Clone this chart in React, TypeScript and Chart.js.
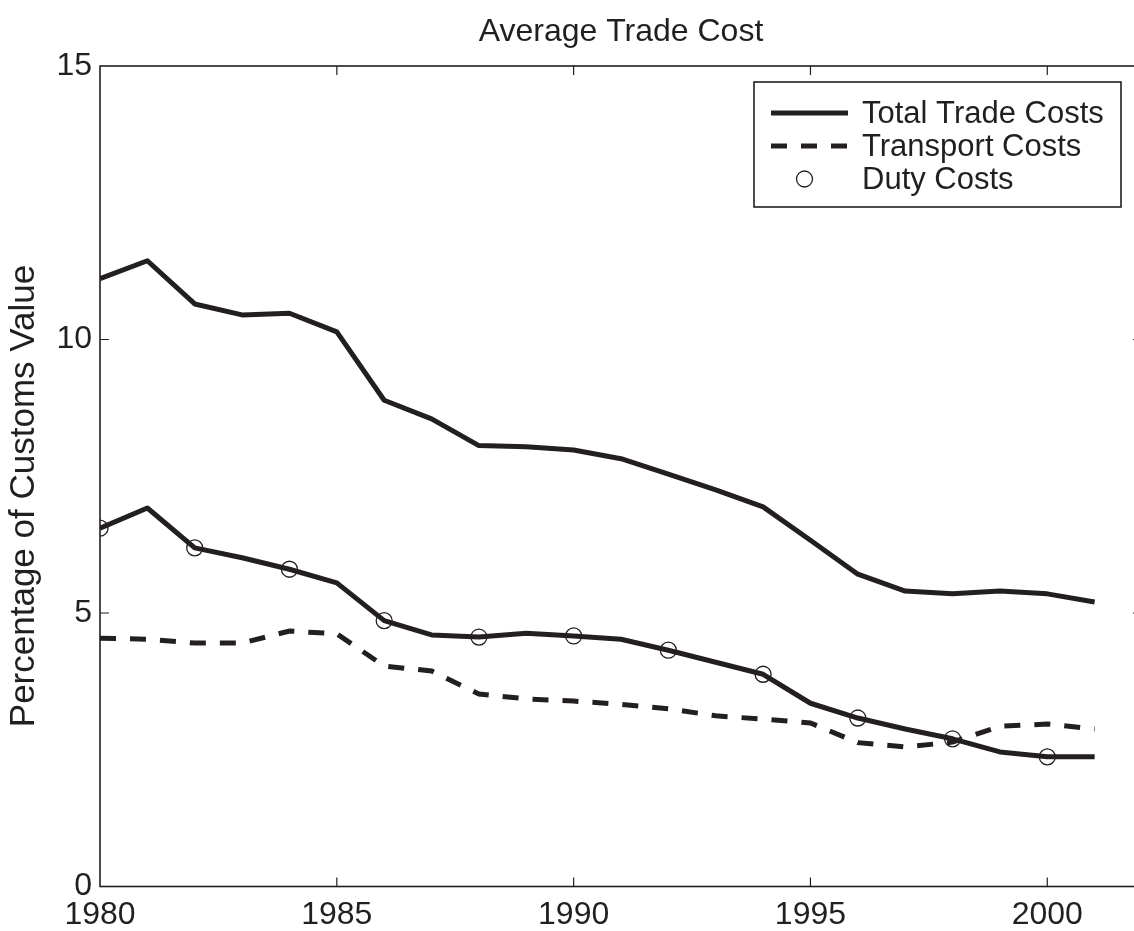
import React, { useEffect, useRef } from 'react';
import { Chart, registerables } from 'chart.js';

Chart.register(...registerables);

const years = [1980, 1981, 1982, 1983, 1984, 1985, 1986, 1987, 1988, 1989, 1990, 1991, 1992, 1993, 1994, 1995, 1996, 1997, 1998, 1999, 2000, 2001];
const totalTradeCosts = [11.11, 11.44, 10.65, 10.45, 10.48, 10.14, 8.89, 8.55, 8.06, 8.04, 7.98, 7.82, 7.54, 7.25, 6.94, 6.33, 5.71, 5.40, 5.35, 5.40, 5.35, 5.20];
const transportCosts = [4.54, 4.52, 4.45, 4.45, 4.67, 4.62, 4.03, 3.94, 3.52, 3.43, 3.39, 3.33, 3.25, 3.12, 3.06, 2.99, 2.63, 2.55, 2.64, 2.93, 2.97, 2.88];
const dutyCosts = [6.55, 6.92, 6.19, 6.01, 5.80, 5.55, 4.86, 4.60, 4.56, 4.63, 4.58, 4.52, 4.32, 4.10, 3.88, 3.35, 3.08, 2.88, 2.70, 2.46, 2.37, 2.37];
const dutyMarkerYears = [1980, 1982, 1984, 1986, 1988, 1990, 1992, 1994, 1996, 1998, 2000];
const xTicks = [1980, 1985, 1990, 1995, 2000];
const yTicks = [0, 5, 10, 15];
const xRange = [1980, 2002];
const yRange = [0, 15];
const titleText = 'Average Trade Cost';
const yAxisLabel = 'Percentage of Customs Value';
const legendLabels = ['Total Trade Costs', 'Transport Costs', 'Duty Costs'];

const INK = '#231f20';
const FONT = '"Liberation Sans", Arial, Helvetica, sans-serif';
const DASH = [16, 14];

const matlabFrame = {
  id: 'matlabFrame',
  afterDraw(chart: any) {
    const { ctx, chartArea } = chart;
    const { left, top, right, bottom } = chartArea;
    const xs = chart.scales.x;
    const ys = chart.scales.y;
    ctx.save();
    // box
    ctx.strokeStyle = INK;
    ctx.lineWidth = 1.6;
    ctx.setLineDash([]);
    ctx.strokeRect(left, top, right - left, bottom - top);
    // inward ticks
    const tl = 9;
    ctx.lineWidth = 1.2;
    ctx.beginPath();
    xTicks.forEach((v) => {
      const px = xs.getPixelForValue(v);
      if (px > left + 1 && px < right - 1) {
        ctx.moveTo(px, bottom);
        ctx.lineTo(px, bottom - tl);
        ctx.moveTo(px, top);
        ctx.lineTo(px, top + tl);
      }
    });
    yTicks.forEach((v) => {
      const py = ys.getPixelForValue(v);
      if (py > top + 1 && py < bottom - 1) {
        ctx.moveTo(left, py);
        ctx.lineTo(left + tl, py);
        ctx.moveTo(right, py);
        ctx.lineTo(right - tl, py);
      }
    });
    ctx.stroke();

    // title
    ctx.fillStyle = INK;
    ctx.font = `32px ${FONT}`;
    ctx.textAlign = 'center';
    ctx.textBaseline = 'alphabetic';
    ctx.fillText(titleText, (left + right) / 2, 41);

    // y axis label
    ctx.save();
    ctx.translate(34, 496);
    ctx.rotate(-Math.PI / 2);
    ctx.font = `35px ${FONT}`;
    ctx.fillText(yAxisLabel, 0, 0);
    ctx.restore();

    // legend
    const lx = right - 388;
    const ly = top + 16;
    const lw = 367;
    const lh = 125;
    ctx.fillStyle = '#ffffff';
    ctx.fillRect(lx, ly, lw, lh);
    ctx.lineWidth = 1.6;
    ctx.strokeStyle = INK;
    ctx.strokeRect(lx, ly, lw, lh);
    const rows = [31, 64, 97];
    const sx0 = lx + 17;
    const sx1 = lx + 94;
    const tx = lx + 108;
    chart.data.datasets.forEach((ds: any) => {
      const idx = legendLabels.indexOf(ds.label);
      if (idx < 0) return;
      const ry = ly + rows[idx];
      ctx.strokeStyle = INK;
      if (ds.showLine === false) {
        ctx.lineWidth = 1.3;
        ctx.setLineDash([]);
        ctx.beginPath();
        ctx.arc((sx0 + sx1) / 2 - 5, ry, 8, 0, Math.PI * 2);
        ctx.stroke();
      } else {
        ctx.lineWidth = 5;
        ctx.lineCap = 'butt';
        ctx.setLineDash(ds.borderDash || []);
        ctx.beginPath();
        ctx.moveTo(sx0, ry);
        ctx.lineTo(sx1, ry);
        ctx.stroke();
        ctx.setLineDash([]);
      }
      ctx.fillStyle = INK;
      ctx.font = `31px ${FONT}`;
      ctx.textAlign = 'left';
      ctx.textBaseline = 'middle';
      ctx.fillText(ds.label, tx, ry + 1);
    });
    ctx.restore();
  },
};

export default function App() {
  const canvasRef = useRef<HTMLCanvasElement | null>(null);

  useEffect(() => {
    const canvas = canvasRef.current;
    if (!canvas) return;
    const markerData = years
      .map((yr, i) => ({ x: yr, y: dutyCosts[i] }))
      .filter((p) => dutyMarkerYears.includes(p.x));

    const chart = new Chart(canvas, {
      type: 'line',
      data: {
        datasets: [
          {
            label: 'Duty Costs',
            data: markerData,
            showLine: false,
            pointRadius: 8,
            pointBorderWidth: 1.3,
            pointBorderColor: INK,
            pointBackgroundColor: 'rgba(0,0,0,0)',
            pointStyle: 'circle',
            order: 0,
          },
          {
            label: 'Total Trade Costs',
            data: years.map((yr, i) => ({ x: yr, y: totalTradeCosts[i] })),
            borderColor: INK,
            borderWidth: 5,
            pointRadius: 0,
            tension: 0,
            borderJoinStyle: 'round',
            order: 1,
          },
          {
            label: 'Transport Costs',
            data: years.map((yr, i) => ({ x: yr, y: transportCosts[i] })),
            borderColor: INK,
            borderWidth: 5,
            borderDash: DASH,
            borderCapStyle: 'butt',
            pointRadius: 0,
            tension: 0,
            order: 2,
          },
          {
            label: 'Duty Costs (line)',
            data: years.map((yr, i) => ({ x: yr, y: dutyCosts[i] })),
            borderColor: INK,
            borderWidth: 5,
            pointRadius: 0,
            tension: 0,
            borderJoinStyle: 'round',
            order: 3,
          },
        ],
      } as any,
      options: {
        responsive: false,
        animation: false,
        devicePixelRatio: 1,
        layout: { padding: { top: 66, right: 18, left: 0, bottom: 0 } },
        plugins: {
          legend: { display: false },
          title: { display: false },
          tooltip: { enabled: false },
        },
        scales: {
          x: {
            type: 'linear',
            min: xRange[0],
            max: xRange[1],
            grid: { display: false, drawTicks: false },
            border: { display: false },
            afterBuildTicks: (scale: any) => {
              scale.ticks = xTicks.map((value) => ({ value }));
            },
            afterFit: (scale: any) => {
              scale.height = 44.5;
            },
            ticks: {
              color: INK,
              font: { family: FONT, size: 32 },
              padding: 9,
              maxRotation: 0,
              autoSkip: false,
              callback: (v: any) => String(v),
            },
          },
          y: {
            type: 'linear',
            min: yRange[0],
            max: yRange[1],
            grid: { display: false, drawTicks: false },
            border: { display: false },
            afterBuildTicks: (scale: any) => {
              scale.ticks = yTicks.map((value) => ({ value }));
            },
            afterFit: (scale: any) => {
              scale.width = 100;
            },
            ticks: {
              color: INK,
              font: { family: FONT, size: 32 },
              padding: 8,
              autoSkip: false,
              callback: (v: any) => String(v),
            },
          },
        },
      } as any,
      plugins: [matlabFrame],
    });
    return () => chart.destroy();
  }, []);

  return (
    <div style={{ position: 'fixed', left: 0, top: 0, width: 1134, height: 931, overflow: 'hidden', background: '#fff' }}>
      <canvas ref={canvasRef} width={1160} height={931} style={{ display: 'block', width: 1160, height: 931 }} />
    </div>
  );
}
